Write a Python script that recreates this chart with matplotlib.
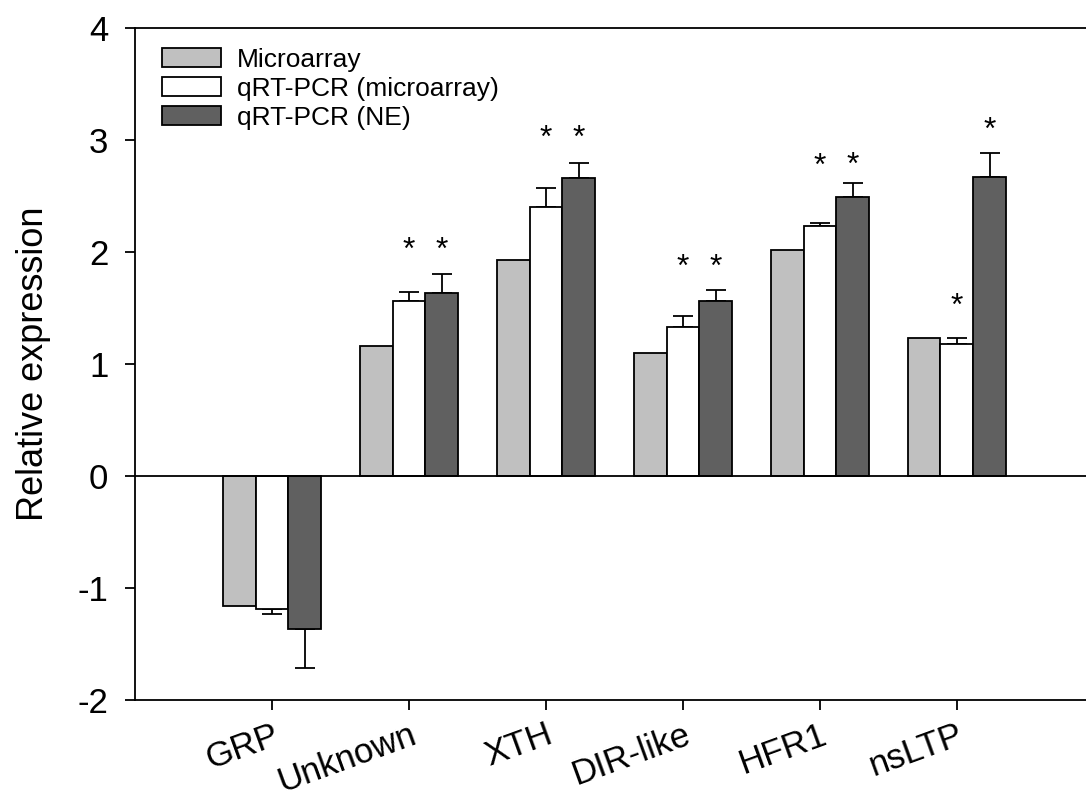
import numpy as np
import matplotlib
matplotlib.use('Agg')
import matplotlib.pyplot as plt

plt.rcParams['font.family'] = ['Liberation Sans', 'DejaVu Sans']
plt.rcParams['axes.unicode_minus'] = False

# ---- data ----
genes = ['GRP', 'Unknown', 'XTH', 'DIR-like', 'HFR1', 'nsLTP']
series = ['Microarray', 'qRT-PCR (microarray)', 'qRT-PCR (NE)']

microarray = [-1.16, 1.16, 1.93, 1.10, 2.02, 1.23]
qpcr_micro = [-1.19, 1.56, 2.40, 1.33, 2.23, 1.18]
qpcr_ne = [-1.37, 1.63, 2.66, 1.56, 2.49, 2.67]

err_micro = [0.04, 0.08, 0.17, 0.10, 0.03, 0.05]
err_ne = [0.34, 0.17, 0.13, 0.10, 0.13, 0.21]

# significance marks (* above bars), height where the star sits
star_micro_y = [None, 2.01, 3.01, 1.86, 2.76, 1.51]
star_ne_y = [None, 2.01, 3.01, 1.86, 2.77, 3.08]

colors = ['#c0c0c0', '#ffffff', '#606060']

# ---- figure ----
fig = plt.figure(figsize=(10.86, 8.01), dpi=100)
ax = fig.add_axes([0.1243, 0.1261, 0.883, 0.839])

x = np.arange(len(genes))
w = 0.24
lw = 1.3

ax.bar(x - w, microarray, w, color=colors[0], edgecolor='black', linewidth=lw,
       label=series[0], zorder=2)
ax.bar(x, qpcr_micro, w, color=colors[1], edgecolor='black', linewidth=lw,
       label=series[1], zorder=2)
ax.bar(x + w, qpcr_ne, w, color=colors[2], edgecolor='black', linewidth=lw,
       label=series[2], zorder=2)

# one-sided error bars (away from zero)
def one_sided(vals, errs):
    lo = [e if v < 0 else 0 for v, e in zip(vals, errs)]
    hi = [e if v >= 0 else 0 for v, e in zip(vals, errs)]
    return [lo, hi]

ax.errorbar(x, qpcr_micro, yerr=one_sided(qpcr_micro, err_micro), fmt='none',
            ecolor='black', elinewidth=lw, capsize=7.2, capthick=lw, zorder=1)
ax.errorbar(x + w, qpcr_ne, yerr=one_sided(qpcr_ne, err_ne), fmt='none',
            ecolor='black', elinewidth=lw, capsize=7.2, capthick=lw, zorder=1)

for i in range(len(genes)):
    if star_micro_y[i] is not None:
        ax.text(x[i], star_micro_y[i], '*', ha='center', va='center', fontsize=23)
    if star_ne_y[i] is not None:
        ax.text(x[i] + w, star_ne_y[i], '*', ha='center', va='center', fontsize=23)

ax.axhline(0, color='black', linewidth=lw, zorder=3)

ax.set_xlim(-1, 6)
ax.set_ylim(-2, 4)
ax.set_yticks(np.arange(-2, 5, 1))
ax.set_xticks(x)
ax.set_xticklabels(genes, rotation=20, ha='right', rotation_mode='anchor', fontsize=26)

ax.tick_params(axis='both', direction='out', width=lw, labelsize=25)
ax.tick_params(axis='y', length=7.2, pad=12)
ax.tick_params(axis='x', length=7.2, pad=6)

for s in ['left', 'top', 'bottom']:
    ax.spines[s].set_linewidth(lw)
ax.spines['right'].set_visible(False)

ax.set_ylabel('Relative expression', fontsize=26)
ax.yaxis.set_label_coords(-0.088, 0.5)

ax.legend(loc='upper left', bbox_to_anchor=(0.028, 0.97), frameon=False,
          fontsize=19, handlelength=2.26, handleheight=0.72, handletextpad=0.57,
          labelspacing=0.18, borderpad=0, borderaxespad=0)

fig.savefig('out.png', dpi=100)
